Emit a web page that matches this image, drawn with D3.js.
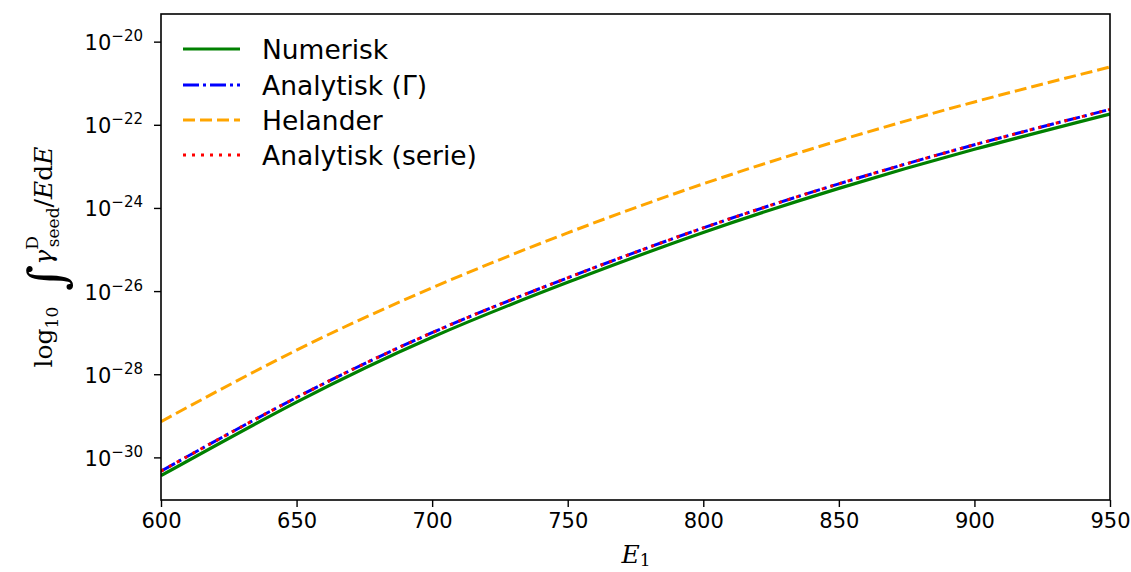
<!DOCTYPE html>
<html><head><meta charset="utf-8">
<script src="https://cdn.jsdelivr.net/npm/d3@7"></script>
<style>body{margin:0;background:#fff;}svg{display:block;}</style>
</head><body>
<svg id="c" width="1131" height="572"></svg>
<script>
const energies = [600, 650, 700, 750, 800, 850, 900, 950];
const numerisk = [-30.44, -28.67, -27.11, -25.79, -24.59, -23.53, -22.59, -21.74];
const analytiskGamma = [-30.33, -28.56, -27.00, -25.68, -24.48, -23.42, -22.48, -21.63];
const helander = [-29.14, -27.42, -25.92, -24.60, -23.42, -22.38, -21.45, -20.61];
const analytiskSerie = [-30.33, -28.56, -27.00, -25.68, -24.48, -23.42, -22.48, -21.63];
const xTicks = [600, 650, 700, 750, 800, 850, 900, 950];
const yTickExps = [-20, -22, -24, -26, -28, -30];
const seriesNames = ["Numerisk", "Analytisk (Γ)", "Helander", "Analytisk (serie)"];

const svg = d3.select("#c");
const L = 161, R = 1110, T = 14, B = 500;
const x = d3.scaleLinear().domain([600, 950]).range([L, R]);
const y = d3.scaleLog().domain([Math.pow(10, -31.025), Math.pow(10, -19.335)]).range([B, T]);

const styles = [
  {color: "#008000", dash: null, w: 3.2},
  {color: "#0000ff", dash: "16,4,3,4", w: 3},
  {color: "#ffa500", dash: "12,5", w: 3},
  {color: "#ff0000", dash: "3,6", w: 3}
];
const data = [numerisk, analytiskGamma, helander, analytiskSerie];

svg.append("clipPath").attr("id", "clp").append("rect")
  .attr("x", L).attr("y", T).attr("width", R - L).attr("height", B - T);

const line = d3.line().x(d => x(d[0])).y(d => y(Math.pow(10, d[1]))).curve(d3.curveNatural);
const g = svg.append("g").attr("clip-path", "url(#clp)");
data.forEach((arr, i) => {
  const pts = energies.map((e, j) => [e, arr[j]]);
  g.append("path").attr("d", line(pts)).attr("fill", "none")
    .attr("stroke", styles[i].color).attr("stroke-width", styles[i].w)
    .attr("stroke-dasharray", styles[i].dash);
});

// axes frame
svg.append("rect").attr("x", L).attr("y", T).attr("width", R - L).attr("height", B - T)
  .attr("fill", "none").attr("stroke", "#000").attr("stroke-width", 1.6);

// x ticks
const xa = svg.append("g").attr("transform", `translate(0,${B})`)
  .call(d3.axisBottom(x).tickValues(xTicks).tickSize(7).tickPadding(6).tickFormat(d3.format("d")));
xa.select(".domain").remove();
xa.selectAll("line").attr("stroke-width", 1.4);
xa.selectAll("text").attr("font-family", "DejaVu Sans").attr("font-size", 21).attr("fill", "#000");

// y ticks
const ya = svg.append("g").attr("transform", `translate(${L},0)`)
  .call(d3.axisLeft(y).tickValues(yTickExps.map(e => Math.pow(10, e))).tickSize(7).tickFormat(""));
ya.select(".domain").remove();
ya.selectAll("line").attr("stroke-width", 1.4);
yTickExps.forEach(e => {
  const t = svg.append("text").attr("x", 143).attr("y", y(Math.pow(10, e)) + 8.5)
    .attr("text-anchor", "end").attr("font-family", "DejaVu Sans").attr("font-size", 21).attr("fill", "#000");
  t.append("tspan").text("10");
  t.append("tspan").attr("dy", -9).attr("font-size", 15).text("\u2212" + Math.abs(e));
});

// x label
const xl = svg.append("text").attr("x", 636).attr("y", 563).attr("text-anchor", "middle")
  .attr("font-family", "DejaVu Serif").attr("font-size", 25).attr("fill", "#000");
xl.append("tspan").attr("font-style", "italic").text("E");
xl.append("tspan").attr("dy", 3).attr("font-size", 17).text("1");

// y label
const yl = svg.append("text").attr("transform", "translate(52,257) rotate(-90)")
  .attr("text-anchor", "middle").attr("font-family", "DejaVu Serif").attr("font-size", 25).attr("fill", "#000");
yl.append("tspan").text("log");
yl.append("tspan").attr("dy", 6).attr("font-size", 17).text("10");
yl.append("tspan").attr("dy", 6).attr("font-size", 50).text(" \u222B");
yl.append("tspan").attr("dy", -12).attr("font-style", "italic").attr("font-size", 25).text("\u03B3");
yl.append("tspan").attr("dy", -14).attr("font-size", 17).text("D");
yl.append("tspan").attr("dx", -11).attr("dy", 21).attr("font-size", 17).text("seed");
yl.append("tspan").attr("dy", -7).attr("font-size", 25).text("/");
yl.append("tspan").attr("font-style", "italic").text("E");
yl.append("tspan").text("d");
yl.append("tspan").attr("font-style", "italic").text("E");

// legend
const rowY = [49, 85, 120, 155];
seriesNames.forEach((name, i) => {
  svg.append("line").attr("x1", 183).attr("x2", 240).attr("y1", rowY[i]).attr("y2", rowY[i])
    .attr("stroke", styles[i].color).attr("stroke-width", styles[i].w)
    .attr("stroke-dasharray", styles[i].dash);
  svg.append("text").attr("x", 262).attr("y", rowY[i] + 9.5)
    .attr("font-family", "DejaVu Sans").attr("font-size", 26.5).attr("fill", "#000").text(name);
});
</script>
</body></html>
